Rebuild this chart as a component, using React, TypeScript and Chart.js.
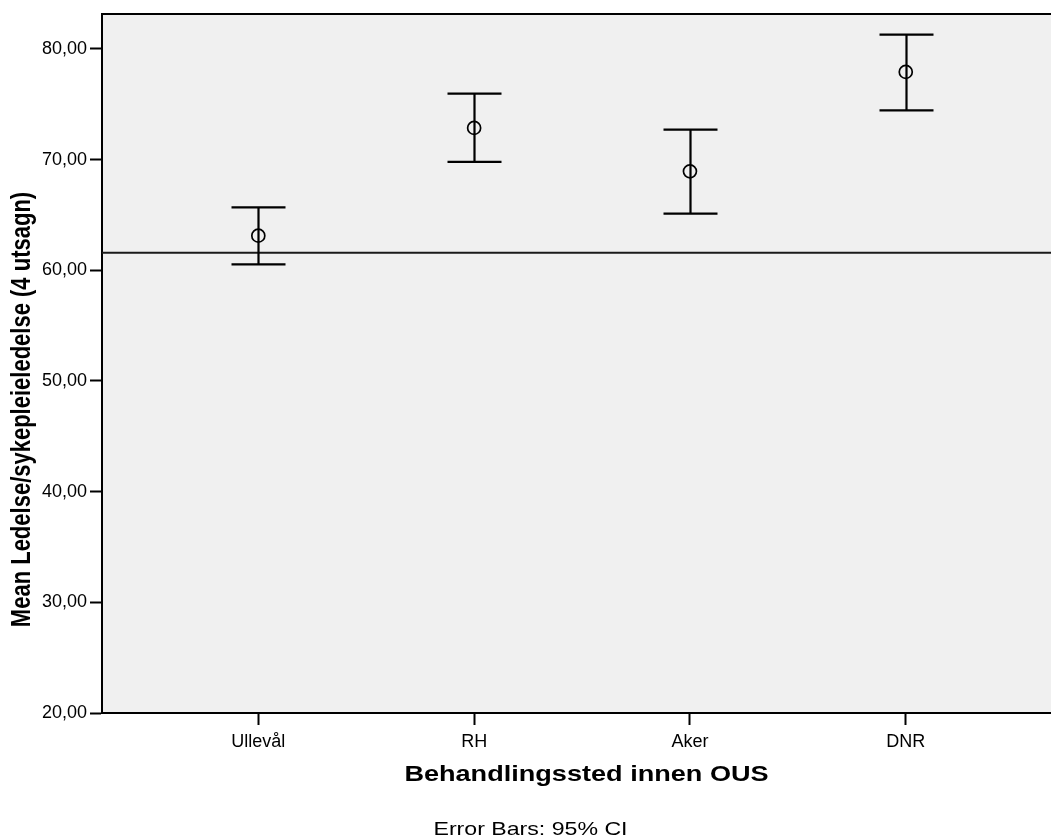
import React, { useEffect, useRef } from "react";
import { Chart, registerables } from "chart.js";

Chart.register(...registerables);

const categories = ["Ullevål", "RH", "Aker", "DNR"];
const means = [63.13, 72.87, 68.94, 77.93];
const ciLower = [60.53, 69.79, 65.12, 74.46];
const ciUpper = [65.69, 75.97, 72.71, 81.3];
const referenceLine = 61.59;
const yTickValues = [20, 30, 40, 50, 60, 70, 80];
const yTitle = "Mean Ledelse/sykepleieledelse (4 utsagn)";
const xTitle = "Behandlingssted innen OUS";
const footnote = "Error Bars: 95% CI";

const X_MIN = 0.2757;
const X_MAX = 4.673;
const Y_MIN = 20;
const Y_MAX = 83.16;
const FONT = "'Liberation Sans', Arial, sans-serif";

const decorPlugin = {
  id: "decor",
  beforeDraw(chart: any) {
    const { ctx, chartArea } = chart;
    ctx.save();
    ctx.fillStyle = "#ffffff";
    ctx.fillRect(0, 0, chart.width, chart.height);
    ctx.fillStyle = "#f0f0f0";
    ctx.fillRect(chartArea.left, chartArea.top, chartArea.right - chartArea.left, chartArea.bottom - chartArea.top);
    ctx.restore();
  },
  afterDatasetsDraw(chart: any) {
    const { ctx, chartArea, scales } = chart;
    const xs = scales.x;
    const ys = scales.y;
    ctx.save();
    // error bars
    ctx.strokeStyle = "#000";
    ctx.lineWidth = 2.2;
    const half = 27;
    categories.forEach((_, i) => {
      const px = Math.round(xs.getPixelForValue(i + 1)) + 0.5;
      const yu = ys.getPixelForValue(ciUpper[i]);
      const yl = ys.getPixelForValue(ciLower[i]);
      ctx.beginPath();
      ctx.moveTo(px, yu);
      ctx.lineTo(px, yl);
      ctx.moveTo(px - half, yu);
      ctx.lineTo(px + half, yu);
      ctx.moveTo(px - half, yl);
      ctx.lineTo(px + half, yl);
      ctx.stroke();
    });
    // top border
    ctx.beginPath();
    ctx.lineWidth = 2;
    ctx.moveTo(chartArea.left, chartArea.top);
    ctx.lineTo(chartArea.right, chartArea.top);
    ctx.stroke();
    ctx.restore();
  },
  afterDraw(chart: any) {
    const { ctx, chartArea } = chart;
    ctx.save();
    ctx.fillStyle = "#000";
    // x title
    ctx.save();
    ctx.translate((chartArea.left + chartArea.right) / 2 + 10, chartArea.bottom + 68);
    ctx.scale(1.26, 1);
    ctx.font = `bold 21.5px ${FONT}`;
    ctx.textAlign = "center";
    ctx.textBaseline = "alphabetic";
    ctx.fillText(xTitle, 0, 0);
    ctx.restore();
    // footnote
    ctx.save();
    ctx.translate(530.5, chartArea.bottom + 122);
    ctx.scale(1.25, 1);
    ctx.font = `18.5px ${FONT}`;
    ctx.textAlign = "center";
    ctx.textBaseline = "alphabetic";
    ctx.fillText(footnote, 0, 0);
    ctx.restore();
    // y title
    ctx.save();
    ctx.translate(30, (chartArea.top + chartArea.bottom) / 2 + 46);
    ctx.rotate(-Math.PI / 2);
    ctx.scale(1, 1.25);
    ctx.font = `bold 22px ${FONT}`;
    ctx.textAlign = "center";
    ctx.textBaseline = "alphabetic";
    ctx.fillText(yTitle, 0, 0);
    ctx.restore();
    ctx.restore();
  },
};

export default function App() {
  const canvasRef = useRef<HTMLCanvasElement | null>(null);

  useEffect(() => {
    document.body.style.margin = "0";
    const canvas = canvasRef.current;
    if (!canvas) return;
    const chart = new Chart(canvas, {
      type: "scatter",
      data: {
        datasets: [
          {
            type: "line",
            data: [
              { x: X_MIN, y: referenceLine },
              { x: X_MAX, y: referenceLine },
            ],
            borderColor: "#1a1a1a",
            borderWidth: 2,
            pointRadius: 0,
            fill: false,
            order: 3,
          } as any,
          {
            data: means.map((m, i) => ({ x: i + 1, y: m })),
            pointStyle: "circle",
            pointRadius: 6.5,
            pointBorderWidth: 1.7,
            borderColor: "#000",
            backgroundColor: "rgba(0,0,0,0)",
            pointBackgroundColor: "rgba(0,0,0,0)",
            pointBorderColor: "#000",
            order: 1,
          } as any,
        ],
      },
      options: {
        responsive: false,
        animation: false,
        devicePixelRatio: 1,
        layout: { autoPadding: false, padding: { top: 14, right: 0, left: 0, bottom: 0 } },
        plugins: {
          legend: { display: false },
          tooltip: { enabled: false },
          title: { display: false },
        },
        scales: {
          x: {
            type: "linear",
            min: X_MIN,
            max: X_MAX,
            afterBuildTicks: (scale: any) => {
              scale.ticks = categories.map((_, i) => ({ value: i + 1 }));
            },
            afterFit: (scale: any) => {
              scale.height = 126;
            },
            ticks: {
              color: "#000",
              font: { family: FONT, size: 18 },
              padding: 6,
              maxRotation: 0,
              autoSkip: false,
              callback: (v: any) => {
                const idx = Math.round(Number(v)) - 1;
                return categories[idx] ?? "";
              },
            },
            grid: {
              display: true,
              drawOnChartArea: false,
              drawTicks: true,
              tickLength: 12,
              tickColor: "#000",
              tickWidth: 2,
            },
            border: { display: true, color: "#000", width: 2 },
          },
          y: {
            type: "linear",
            min: Y_MIN,
            max: Y_MAX,
            afterBuildTicks: (scale: any) => {
              scale.ticks = yTickValues.map((v) => ({ value: v }));
            },
            afterFit: (scale: any) => {
              scale.width = 102;
            },
            ticks: {
              color: "#000",
              font: { family: FONT, size: 18 },
              padding: 3,
              callback: (v: any) => Number(v).toFixed(2).replace(".", ","),
            },
            grid: {
              display: true,
              drawOnChartArea: false,
              drawTicks: true,
              tickLength: 12,
              tickColor: "#000",
              tickWidth: 2,
            },
            border: { display: true, color: "#000", width: 2 },
          },
        },
      },
      plugins: [decorPlugin],
    } as any);
    return () => chart.destroy();
  }, []);

  return (
    <div style={{ position: "absolute", left: 0, top: 0, width: 1051, height: 839 }}>
      <canvas ref={canvasRef} width={1051} height={839} style={{ width: 1051, height: 839 }} />
    </div>
  );
}
